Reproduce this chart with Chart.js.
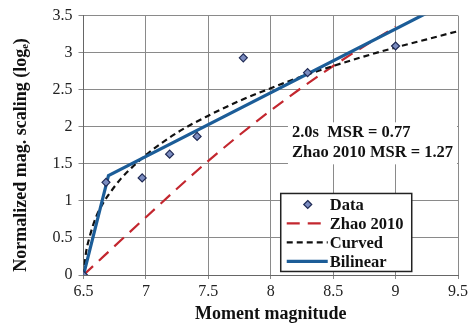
<!DOCTYPE html>
<html><head><meta charset="utf-8">
<script src="https://cdn.jsdelivr.net/npm/chart.js@4/dist/chart.umd.min.js"></script>
<style>html,body{margin:0;padding:0;background:#fff}#wrap{width:473px;height:329px}</style>
</head><body><div id="wrap"><canvas id="c" width="473" height="329"></canvas></div>
<script>
const dataX = [6.5, 6.68, 6.97, 7.19, 7.41, 7.78, 8.295, 9.0];
const dataY = [0, 1.25, 1.31, 1.63, 1.87, 2.93, 2.73, 3.09];
const zhaoX = [6.5, 7.0, 7.5, 8.0, 8.5, 9.0];
const zhaoY = [0, 0.78, 1.54, 2.22, 2.82, 3.35];
const curvedX = [6.5, 6.52, 6.55, 6.6, 6.65, 6.7, 6.8, 6.9, 7.0, 7.25, 7.5, 7.75, 8.0, 8.25, 8.5, 8.75, 9.0, 9.25, 9.5];
const curvedY = [0, 0.3, 0.52, 0.78, 0.95, 1.08, 1.3, 1.47, 1.62, 1.92, 2.15, 2.35, 2.52, 2.68, 2.82, 2.95, 3.07, 3.18, 3.29];
const bilinX = [6.5, 6.7, 9.5];
const bilinY = [0, 1.34, 3.75];
const seriesNames = ["Data", "Zhao 2010", "Curved", "Bilinear"];
const noteLines = ["2.0s  MSR = 0.77", "Zhao 2010 MSR = 1.27"];
const xTitle = "Moment magnitude";
const yTitle = "Normalized mag. scaling (log\u2091)";

const pts = (xs, ys) => xs.map((x, i) => ({x: x, y: ys[i]}));
const SERIF = "'Liberation Serif', 'Times New Roman', serif";
const RED = '#c3272f', BLUE = '#1c5d98', MARK = '#7b8cc0', MARKB = '#1f2a55';

const overlay = {
  id: 'overlay',
  afterDraw(chart) {
    const ctx = chart.ctx, xs = chart.scales.x, ys = chart.scales.y;
    ctx.save();
    // y title
    ctx.save();
    ctx.translate(21, 155);
    ctx.rotate(-Math.PI / 2);
    ctx.fillStyle = '#111';
    ctx.font = "bold 18px " + SERIF;
    ctx.textAlign = 'center';
    ctx.textBaseline = 'middle';
    ctx.fillText(yTitle, 0, 0);
    ctx.restore();
    // annotation box
    const ax = xs.getPixelForValue(8.17), ay = ys.getPixelForValue(2.06);
    ctx.fillStyle = '#fff';
    ctx.fillRect(ax - 4, ay, xs.right - 1 - (ax - 4), 42);
    ctx.fillStyle = '#111';
    ctx.font = "bold 16.5px " + SERIF;
    ctx.textBaseline = 'middle';
    ctx.textAlign = 'left';
    ctx.fillText(noteLines[0], ax, ay + 10);
    ctx.fillText(noteLines[1], ax, ay + 30);
    // legend box
    const lx = xs.getPixelForValue(8.08), ly = ys.getPixelForValue(1.1);
    const lw = 131, lh = 78;
    ctx.fillStyle = '#fff';
    ctx.fillRect(lx, ly, lw, lh);
    ctx.strokeStyle = '#222';
    ctx.lineWidth = 1.5;
    ctx.strokeRect(lx, ly, lw, lh);
    const ds = chart.data.datasets;
    ctx.font = "bold 16.5px " + SERIF;
    for (let i = 0; i < 4; i++) {
      const cy = ly + 11 + i * 19;
      const d = ds[i];
      if (i === 0) {
        const cx = lx + 27, r = 4;
        ctx.beginPath();
        ctx.moveTo(cx, cy - r); ctx.lineTo(cx + r, cy); ctx.lineTo(cx, cy + r); ctx.lineTo(cx - r, cy); ctx.closePath();
        ctx.fillStyle = d.pointBackgroundColor; ctx.fill();
        ctx.strokeStyle = d.pointBorderColor; ctx.lineWidth = 1.2; ctx.stroke();
      } else {
        ctx.beginPath();
        ctx.setLineDash(d.borderDash || []);
        ctx.strokeStyle = d.borderColor; ctx.lineWidth = d.borderWidth;
        ctx.moveTo(lx + 6, cy); ctx.lineTo(lx + 47, cy); ctx.stroke();
        ctx.setLineDash([]);
      }
      ctx.fillStyle = '#111';
      ctx.fillText(seriesNames[i], lx + 49, cy + 1);
    }
    ctx.restore();
  }
};

new Chart(document.getElementById('c'), {
  type: 'scatter',
  data: {
    datasets: [
      {label: seriesNames[0], data: pts(dataX, dataY), showLine: false, pointStyle: 'rectRot', pointRadius: 4,
       pointBackgroundColor: MARK, pointBorderColor: MARKB, pointBorderWidth: 1.2, order: 0},
      {label: seriesNames[1], data: pts(zhaoX, zhaoY), showLine: true, borderColor: RED, borderWidth: 2.2,
       borderDash: [13, 8], pointRadius: 0, cubicInterpolationMode: 'monotone', order: 3},
      {label: seriesNames[2], data: pts(curvedX, curvedY), showLine: true, borderColor: '#111', borderWidth: 2.2,
       borderDash: [6, 4], pointRadius: 0, cubicInterpolationMode: 'monotone', order: 2},
      {label: seriesNames[3], data: pts(bilinX, bilinY), showLine: true, borderColor: BLUE, borderWidth: 3.2,
       pointRadius: 0, tension: 0, order: 1}
    ]
  },
  options: {
    responsive: false, animation: false, devicePixelRatio: 1,
    layout: {padding: {left: 0, right: 15, top: 14, bottom: 0}},
    plugins: {legend: {display: false}, tooltip: {enabled: false}},
    scales: {
      x: {type: 'linear', min: 6.5, max: 9.5,
          ticks: {stepSize: 0.5, color: '#222', font: {family: SERIF, size: 16}, padding: 3,
                  callback: v => String(Math.round(v * 10) / 10)},
          grid: {color: '#8a8a8a', lineWidth: 1, tickLength: 4},
          border: {color: '#666', width: 1},
          title: {display: true, text: xTitle, color: '#111', font: {family: SERIF, size: 18, weight: 'bold'}, padding: {top: 0, bottom: 4}},
          afterFit(s) { s.height = 54; }},
      y: {min: 0, max: 3.5,
          ticks: {stepSize: 0.5, color: '#222', font: {family: SERIF, size: 16}, padding: 6,
                  callback: v => String(Math.round(v * 10) / 10)},
          grid: {color: '#8a8a8a', lineWidth: 1, tickLength: 5},
          border: {color: '#666', width: 1},
          title: {display: false},
          afterFit(s) { s.width = 83.5; }}
    }
  },
  plugins: [overlay]
});
</script>
</body></html>
